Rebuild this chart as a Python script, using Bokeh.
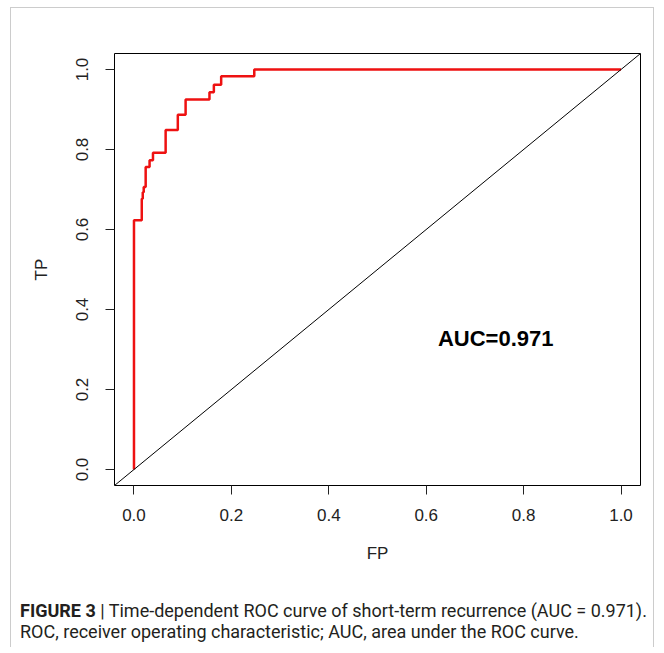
from bokeh.plotting import figure
from bokeh.layouts import column
from bokeh.models import Range1d, Slope, Label, FixedTicker, Div
from bokeh.embed import file_html
from bokeh.resources import INLINE

# ROC curve points (false positive rate, true positive rate)
fp = [0.0, 0.0, 0.016, 0.018, 0.020, 0.024, 0.032, 0.039, 0.065, 0.090, 0.106, 0.155, 0.164, 0.179, 0.247, 1.0]
tp = [0.0, 0.623, 0.677, 0.693, 0.706, 0.756, 0.773, 0.792, 0.849, 0.887, 0.925, 0.943, 0.962, 0.983, 1.0, 1.0]
ticks = [0.0, 0.2, 0.4, 0.6, 0.8, 1.0]
tick_labels = {0.0: "0.0", 0.2: "0.2", 0.4: "0.4", 0.6: "0.6", 0.8: "0.8", 1.0: "1.0"}
auc_text = "AUC=0.971"
caption_head = "FIGURE 3"
caption_line1 = "| Time-dependent ROC curve of short-term recurrence (AUC = 0.971)."
caption_line2 = "ROC, receiver operating characteristic; AUC, area under the ROC curve."

FONT = "Liberation Sans"
CAP_FONT = "Roboto"

W = 642
p = figure(width=W, height=575, output_backend="svg", toolbar_location=None,
           x_range=Range1d(-0.04, 1.04), y_range=Range1d(-0.04, 1.04),
           min_border_left=103, min_border_right=13, min_border_top=45, min_border_bottom=98,
           x_axis_label="FP", y_axis_label="TP")
p.grid.visible = False
p.outline_line_color = "black"
p.outline_line_width = 1
p.background_fill_color = "white"
p.border_fill_color = "white"

for ax in (p.xaxis[0], p.yaxis[0]):
    ax.ticker = FixedTicker(ticks=ticks)
    ax.major_label_overrides = tick_labels
    ax.axis_line_color = None
    ax.major_tick_in = 0
    ax.major_tick_out = 9
    ax.major_tick_line_color = "#222222"
    ax.minor_tick_line_color = None
    ax.major_label_text_font = FONT
    ax.major_label_text_font_size = "17px"
    ax.major_label_text_color = "#222222"
    ax.axis_label_text_font = FONT
    ax.axis_label_text_font_size = "17px"
    ax.axis_label_text_font_style = "normal"
    ax.axis_label_text_color = "#222222"

p.xaxis.major_label_standoff = 14
p.xaxis.axis_label_standoff = 20
p.yaxis.major_label_orientation = "vertical"
p.yaxis.major_label_standoff = 18
p.yaxis.axis_label_standoff = 22

p.add_layout(Slope(gradient=1, y_intercept=0, line_color="black", line_width=1))
p.step(fp, tp, mode="after", line_color="#ee1111", line_width=2.5)

p.add_layout(Label(x=0.624, y=0.328, text=auc_text, text_font=FONT, text_font_size="22px",
                   text_font_style="bold", text_baseline="middle", text_align="left",
                   text_color="black"))

# caption
cap_html = (
    f'<div style="font-family: {CAP_FONT}, sans-serif; font-size: 18px; line-height: 21px; '
    f'color: #231f20; padding: 17px 0 0 9px; white-space: nowrap;">'
    f'<b>{caption_head}</b> {caption_line1}<br>{caption_line2}</div>'
)
cap = Div(text=cap_html, width=W, height=64, margin=0)

layout = column(p, cap, spacing=0, margin=(7, 0, 0, 10),
                styles={"border-left": "1px solid #cccccc", "border-right": "1px solid #cccccc",
                        "border-top": "1px solid #cccccc"})

open("out.html", "w").write(file_html(layout, INLINE))
